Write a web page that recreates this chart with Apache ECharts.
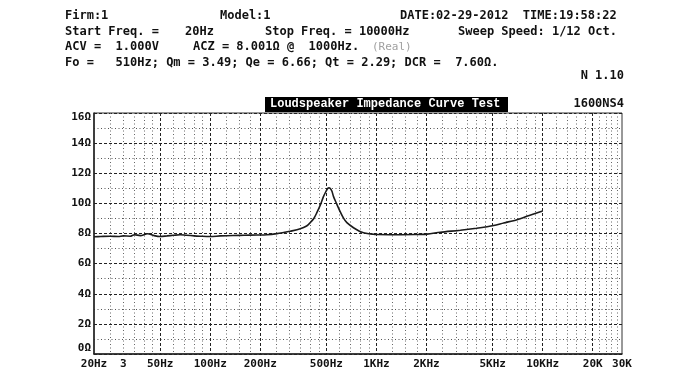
<!DOCTYPE html>
<html>
<head>
<meta charset="utf-8">
<script src="https://cdn.jsdelivr.net/npm/echarts@6/dist/echarts.min.js"></script>
<style>
html,body{margin:0;padding:0;background:#fff;}
#chart{width:690px;height:376px;}
</style>
</head>
<body>
<div id="chart"></div>
<script>
// ---- data ----
const freqHz = [20, 22, 25, 28, 30, 33, 35, 38, 42, 46, 50, 55, 60, 66, 72, 80, 87, 100, 115, 137, 160, 190, 219, 252, 280, 303, 348, 380, 399, 420, 438, 460, 480, 500, 508, 518, 528, 540, 552, 575, 605, 635, 664, 728, 790, 836, 900, 961, 1007, 1200, 1400, 1700, 2014, 2421, 3196, 4000, 4630, 5070, 5827, 7014, 8300, 10000];
const impedanceOhm = [7.78, 7.80, 7.82, 7.80, 7.84, 7.82, 7.92, 7.86, 7.98, 7.86, 7.80, 7.84, 7.88, 7.92, 7.88, 7.84, 7.82, 7.80, 7.84, 7.87, 7.88, 7.90, 7.92, 7.99, 8.08, 8.15, 8.31, 8.50, 8.71, 9.00, 9.38, 9.90, 10.45, 10.85, 10.98, 11.04, 10.98, 10.80, 10.45, 10.00, 9.45, 9.00, 8.72, 8.38, 8.15, 8.05, 7.98, 7.95, 7.93, 7.92, 7.92, 7.93, 7.96, 8.08, 8.22, 8.35, 8.45, 8.53, 8.70, 8.92, 9.20, 9.50];

const xLabelValues = [20, 30, 50, 100, 200, 500, 1000, 2000, 5000, 10000, 20000, 30000];
const xLabelTexts = ['20Hz', '3', '50Hz', '100Hz', '200Hz', '500Hz', '1KHz', '2KHz', '5KHz', '10KHz', '20K', '30K'];
const xMajorGrid = [50, 100, 200, 500, 1000, 2000, 5000, 10000, 20000];
const xMinorGrid = [25, 30, 35, 40, 45, 60, 70, 80, 90, 125, 150, 175, 250, 300, 350, 400, 450, 600, 700, 800, 900, 1250, 1500, 1750, 2500, 3000, 3500, 4000, 4500, 6000, 7000, 8000, 9000, 12000, 14000, 16000, 18000, 22000, 24000, 26000, 28000];
const yMin = 0, yMax = 16, yStep = 2;

const headerLines = [
  ['Firm:1', 65, 17], ['Model:1', 220, 17], ['DATE:02-29-2012  TIME:19:58:22', 400, 17],
  ['Start Freq. =', 65, 33], ['20Hz', 185, 33], ['Stop Freq. = 10000Hz', 265, 33], ['Sweep Speed: 1/12 Oct.', 458, 33],
  ['ACV =  1.000V', 65, 48], ['ACZ = 8.001Ω @  1000Hz.', 193, 48],
  ['Fo =   510Hz; Qm = 3.49; Qe = 6.66; Qt = 2.29; DCR =  7.60Ω.', 65, 64]
];

const MONO = '"DejaVu Sans Mono", "Liberation Mono", monospace';

function labelFor(v) {
  let best = 0, bd = Infinity;
  xLabelValues.forEach((x, i) => {
    const d = Math.abs(Math.log(v / x));
    if (d < bd) { bd = d; best = i; }
  });
  return xLabelTexts[best];
}

const chart = echarts.init(document.getElementById('chart'), null, {renderer: 'canvas'});

const graphics = headerLines.map(([t, x, y]) => ({
  type: 'text', left: x, top: y - 7,
  style: {text: t, font: 'bold 12px ' + MONO, fill: '#111'}
}));
graphics.push({type: 'text', left: 372, top: 42, style: {text: '(Real)', font: '11px ' + MONO, fill: '#a0a0a0'}});
graphics.push({type: 'text', right: 66, top: 70, style: {text: 'N 1.10', font: 'bold 12px ' + MONO, fill: '#111'}});
graphics.push({type: 'rect', left: 265, top: 97, shape: {width: 243, height: 15}, style: {fill: '#000'}});
graphics.push({type: 'text', left: 270, top: 98, style: {text: 'Loudspeaker Impedance Curve Test', font: 'bold 12px "Liberation Mono", monospace', fill: '#fff'}});
graphics.push({type: 'text', right: 66, top: 98, style: {text: '1600NS4', font: 'bold 12px ' + MONO, fill: '#111'}});

const option = {
  animation: false,
  backgroundColor: '#fff',
  graphic: graphics,
  grid: {left: 94, right: 68, top: 113, bottom: 22, show: true, borderColor: '#333', borderWidth: 1, backgroundColor: 'transparent'},
  xAxis: [
    {
      type: 'log', logBase: 10, min: 20, max: 30000, position: 'bottom',
      axisLine: {show: true, onZero: false, lineStyle: {color: '#222', width: 1.5}},
      axisTick: {show: false, customValues: xMajorGrid},
      axisLabel: {
        customValues: xLabelValues, formatter: labelFor, margin: 5,
        fontFamily: MONO, fontWeight: 'bold', fontSize: 11, color: '#111',
        showMinLabel: true, showMaxLabel: true, hideOverlap: false
      },
      splitLine: {show: true, lineStyle: {color: '#222', type: [3, 2], width: 1}}
    },
    {
      type: 'log', logBase: 10, min: 20, max: 30000, position: 'bottom',
      axisLine: {show: false}, axisLabel: {show: false},
      axisTick: {show: false, customValues: xMinorGrid},
      splitLine: {show: true, lineStyle: {color: '#666', type: [1, 2.5], width: 1}}
    }
  ],
  yAxis: {
    type: 'value', min: yMin, max: yMax, interval: yStep,
    axisLine: {show: true, lineStyle: {color: '#222', width: 1.5}},
    axisTick: {show: false},
    minorTick: {show: false, splitNumber: 2},
    minorSplitLine: {show: true, lineStyle: {color: '#555', type: [1, 2.5], width: 1}},
    splitLine: {show: true, lineStyle: {color: '#222', type: [3, 2], width: 1}},
    axisLabel: {
      margin: 3, fontFamily: MONO, fontWeight: 'bold', fontSize: 11, color: '#111',
      formatter: function (v) {
        if (v === yMax) return '{t|' + v + 'Ω}';
        if (v === yMin) return '{b|' + v + 'Ω}';
        return v + 'Ω';
      },
      rich: {
        t: {fontFamily: MONO, fontWeight: 'bold', fontSize: 11, color: '#111', padding: [8, 0, 0, 0]},
        b: {fontFamily: MONO, fontWeight: 'bold', fontSize: 11, color: '#111', padding: [0, 0, 12, 0]}
      }
    }
  },
  series: [{
    type: 'line', xAxisIndex: 0, smooth: 0.3, showSymbol: false,
    lineStyle: {color: '#1a1a1a', width: 1.6},
    data: freqHz.map((f, i) => [f, impedanceOhm[i]])
  }]
};
chart.setOption(option);
</script>
</body>
</html>
